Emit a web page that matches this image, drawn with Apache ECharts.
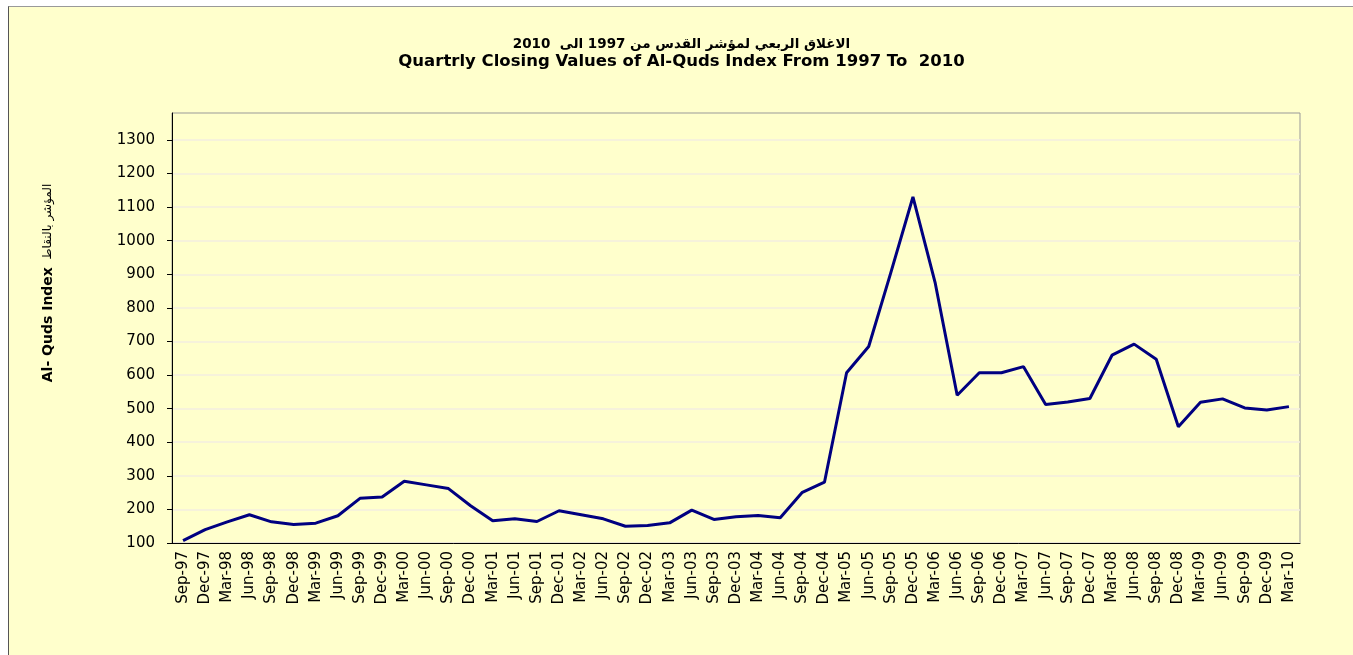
<!DOCTYPE html>
<html>
<head>
<meta charset="utf-8">
<title>Al-Quds Index</title>
<script src="https://cdn.jsdelivr.net/npm/echarts@6.0.0/dist/echarts.min.js"></script>
<style>
  html, body { margin: 0; padding: 0; background: #ffffff; }
  #chart {
    position: absolute;
    left: 8px;
    top: 6px;
    width: 1345px;
    height: 649px;
    border-left: 1px solid #555555;
    border-top: 1px solid #999999;
  }
</style>
</head>
<body>
<div id="chart"></div>
<script>
// quarter labels
var quarters = [
  'Sep-97', 'Dec-97',
  'Mar-98', 'Jun-98', 'Sep-98', 'Dec-98',
  'Mar-99', 'Jun-99', 'Sep-99', 'Dec-99',
  'Mar-00', 'Jun-00', 'Sep-00', 'Dec-00',
  'Mar-01', 'Jun-01', 'Sep-01', 'Dec-01',
  'Mar-02', 'Jun-02', 'Sep-02', 'Dec-02',
  'Mar-03', 'Jun-03', 'Sep-03', 'Dec-03',
  'Mar-04', 'Jun-04', 'Sep-04', 'Dec-04',
  'Mar-05', 'Jun-05', 'Sep-05', 'Dec-05',
  'Mar-06', 'Jun-06', 'Sep-06', 'Dec-06',
  'Mar-07', 'Jun-07', 'Sep-07', 'Dec-07',
  'Mar-08', 'Jun-08', 'Sep-08', 'Dec-08',
  'Mar-09', 'Jun-09', 'Sep-09', 'Dec-09',
  'Mar-10'
]

// closing values
var closingValues = [
  107, 140,
  163, 184, 163, 155,
  159, 181, 233, 237,
  284, 273, 262, 211,
  166, 172, 164, 196,
  184, 172, 150, 152,
  160, 198, 170, 178,
  182, 175, 251, 281,
  607, 685, 905, 1130,
  876, 540, 607, 607,
  625, 512, 520, 530,
  659, 692, 647, 446,
  519, 529, 502, 496,
  506
]

var yTicks = [100, 200, 300, 400, 500, 600, 700, 800, 900, 1000, 1100, 1200, 1300]

var titleAr = 'الاغلاق الربعي لمؤشر القدس من 1997 الى  2010'
var titleEn = 'Quartrly Closing Values of Al-Quds Index From 1997 To  2010'
var yNameEn = 'Al- Quds Index'
var yNameAr = 'المؤشر بالنقاط'

var font = '"DejaVu Sans", Arial, sans-serif'

var chart = echarts.init(document.getElementById('chart'), null, { renderer: 'canvas' })

var option = {
  backgroundColor: '#FFFFCC',
  animation: false,
  title: {
    text: '{ar|' + titleAr + '}\n{en|' + titleEn + '}',
    left: 'center',
    top: 29,
    padding: 0,
    textStyle: {
      rich: {
        ar: {
          fontFamily: font,
          fontWeight: 'bold',
          fontSize: 13.5,
          lineHeight: 17,
          color: '#000000'
        },
        en: {
          fontFamily: font,
          fontWeight: 'bold',
          fontSize: 16.5,
          lineHeight: 17,
          color: '#000000'
        }
      }
    }
  },
  grid: {
    left: 163,
    top: 106,
    right: 54,
    bottom: 113,
    show: true,
    backgroundColor: 'transparent',
    borderColor: '#999999',
    borderWidth: 1
  },
  graphic: [
    {
      type: 'text',
      x: 39,
      y: 276,
      rotation: Math.PI / 2,
      style: {
        text: '{en|' + yNameEn + '}{ar|  ' + yNameAr + '}',
        align: 'center',
        verticalAlign: 'middle',
        rich: {
          en: { fontFamily: font, fontWeight: 'bold', fontSize: 14, fill: '#000000' },
          ar: { fontFamily: font, fontWeight: 'normal', fontSize: 12, fill: '#000000' }
        }
      }
    }
  ],
  xAxis: {
    type: 'category',
    data: quarters,
    boundaryGap: true,
    axisLine: { lineStyle: { color: '#000000', width: 1 } },
    axisTick: { interval: 0, length: 5, lineStyle: { color: '#000000' } },
    axisLabel: {
      interval: 0,
      rotate: 90,
      margin: 8,
      fontFamily: font,
      fontSize: 15,
      color: '#000000'
    },
    splitLine: { show: false }
  },
  yAxis: {
    type: 'value',
    min: 100,
    max: 1380,
    interval: 100,
    axisLine: { show: true, lineStyle: { color: '#000000', width: 1 } },
    axisTick: { show: true, length: 5, customValues: yTicks, lineStyle: { color: '#000000' } },
    axisLabel: {
      customValues: yTicks,
      margin: 17,
      fontFamily: font,
      fontSize: 15,
      color: '#000000',
      formatter: function(v) {
        return String(v)
      }
    },
    splitLine: { show: true, lineStyle: { color: '#F3EEE0', width: 1.5 } }
  },
  series: [
    {
      name: 'Al-Quds Index',
      type: 'line',
      data: closingValues,
      symbol: 'none',
      lineStyle: { color: '#000080', width: 3 },
      itemStyle: { color: '#000080' }
    }
  ]
}

chart.setOption(option)
</script>
</body>
</html>
